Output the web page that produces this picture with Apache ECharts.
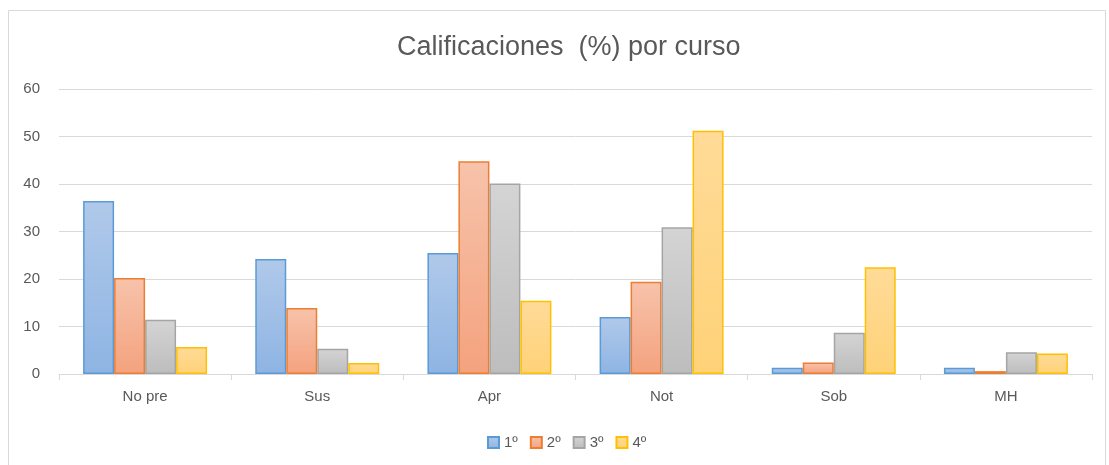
<!DOCTYPE html>
<html><head><meta charset="utf-8">
<script src="https://cdn.jsdelivr.net/npm/echarts@6/dist/echarts.min.js"></script>
<style>html,body{margin:0;padding:0;background:#fff}#c{width:1109px;height:465px}</style>
</head><body><div id="c"></div>
<script>
const categories = ['No pre','Sus','Apr','Not','Sob','MH'];
const seriesNames = ['1º','2º','3º','4º'];
const s1 = [36.4, 24.2, 25.5, 12.0, 1.3, 1.3];
const s2 = [20.2, 13.9, 44.8, 19.4, 2.4, 0.6];
const s3 = [11.4, 5.3, 40.1, 30.9, 8.7, 4.6];
const s4 = [5.7, 2.3, 15.4, 51.2, 22.5, 4.3];
const yTicks = [0, 10, 20, 30, 40, 50, 60];

const values = [s1, s2, s3, s4];
const fills = [['#b0c9ea','#8eb4e3'],['#f7c3ab','#f4a27e'],['#d4d4d4','#bdbdbd'],['#ffdb98','#ffd278']];
const borders = ['#5b9bd5','#ed7d31','#a5a5a5','#ffc000'];
const font = '"Liberation Sans", "Open Sans", sans-serif';

const chart = echarts.init(document.getElementById('c'), null, {renderer:'canvas'});
chart.setOption({
  animation:false,
  backgroundColor:'#fff',
  graphic:[{type:'rect', shape:{x:8.5,y:10.5,width:1097,height:470}, style:{fill:'none', stroke:'#d9d9d9', lineWidth:1}, silent:true}],
  title:{text:'Calificaciones  (%) por curso', left:392, top:29,
    textStyle:{fontFamily:font, fontSize:27, fontWeight:'normal', color:'#595959'}},
  legend:{top:430, left:482, itemWidth:11, itemHeight:11, itemGap:12, icon:'rect',
    textStyle:{fontFamily:font, fontSize:15, color:'#595959'}, data:seriesNames},
  grid:{left:59, right:17, top:89, bottom:91, containLabel:false},
  xAxis:{type:'category', data:categories,
    axisLine:{lineStyle:{color:'#d9d9d9'}},
    axisTick:{show:true, length:6, lineStyle:{color:'#d9d9d9'}},
    axisLabel:{fontFamily:font, fontSize:15, color:'#595959', margin:15}},
  yAxis:{type:'value', min:yTicks[0], max:yTicks[yTicks.length-1], interval:10,
    axisLine:{show:false}, axisTick:{show:false},
    splitLine:{lineStyle:{color:'#d9d9d9'}},
    axisLabel:{fontFamily:font, fontSize:15, color:'#595959', margin:19}},
  series: seriesNames.map((n,i)=>({
    name:n, type:'bar', data:values[i], barGap:'0%', barCategoryGap:'28%',
    itemStyle:{color:new echarts.graphic.LinearGradient(0,0,0,1,[{offset:0,color:fills[i][0]},{offset:1,color:fills[i][1]}]),
      borderColor:borders[i], borderWidth:1.5}
  }))
});
</script></body></html>
